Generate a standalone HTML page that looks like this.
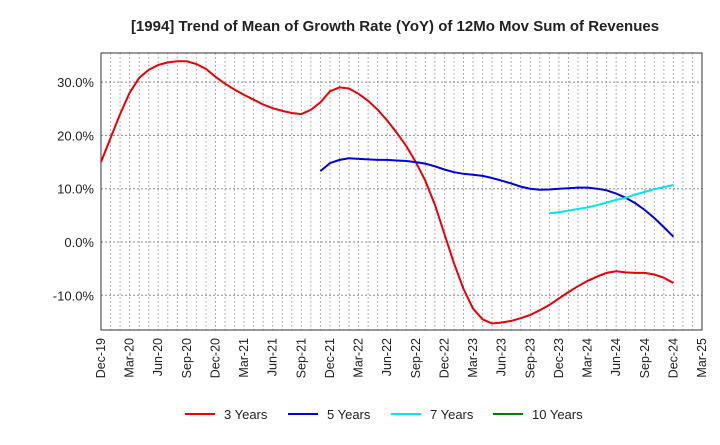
<!DOCTYPE html>
<html><head><meta charset="utf-8"><style>
body{margin:0;background:#fff;font-family:"Liberation Sans",sans-serif}
</style></head><body>
<svg id="chart" width="720" height="440" xmlns="http://www.w3.org/2000/svg" font-family="Liberation Sans, sans-serif">
<text x="395" y="31" text-anchor="middle" font-size="15" font-weight="bold" fill="#222">[1994]  Trend of Mean of Growth Rate (YoY) of 12Mo Mov Sum of Revenues</text>
<g id="grid"></g><g id="axes"></g><g id="series"></g><g id="legend"></g>
</svg>
<script>
const xLabels=["Dec-19","Mar-20","Jun-20","Sep-20","Dec-20","Mar-21","Jun-21","Sep-21","Dec-21","Mar-22","Jun-22","Sep-22","Dec-22","Mar-23","Jun-23","Sep-23","Dec-23","Mar-24","Jun-24","Sep-24","Dec-24","Mar-25"];
const yTicks=[30,20,10,0,-10];
const s3=[15.0,19.5,24,28,30.8,32.3,33.2,33.7,33.9,33.9,33.4,32.5,31,29.7,28.6,27.6,26.7,25.8,25.1,24.6,24.2,24.0,24.8,26.2,28.3,29.0,28.8,27.8,26.5,24.8,22.8,20.5,18,15,11.5,7,1.5,-4,-8.8,-12.5,-14.5,-15.3,-15.1,-14.8,-14.3,-13.7,-12.8,-11.8,-10.6,-9.4,-8.3,-7.3,-6.5,-5.8,-5.5,-5.7,-5.8,-5.8,-6.1,-6.7,-7.7];
const s5=[13.3,14.8,15.4,15.7,15.6,15.5,15.4,15.4,15.3,15.2,15.0,14.7,14.2,13.6,13.1,12.8,12.6,12.4,12.0,11.5,11.0,10.4,10.0,9.8,9.85,10.0,10.1,10.2,10.2,10.0,9.7,9.1,8.3,7.3,6.0,4.5,2.8,1.0];
const s7=[5.4,5.6,5.9,6.2,6.5,6.9,7.4,7.9,8.3,8.9,9.4,9.9,10.3,10.7];
const s10=[];
const start5=23, start7=47;
const L=101,R=702,T=53,B=330;
const X=i=>L+i*(R-L)/63;
const Y=v=>242-v*5.33;
const NS="http://www.w3.org/2000/svg";
function mk(p,tag,a){const e=document.createElementNS(NS,tag);for(const k in a)e.setAttribute(k,a[k]);document.getElementById(p).appendChild(e);return e;}
for(let i=1;i<63;i++){const g=mk('grid','line',{x1:X(i),x2:X(i),y1:T,y2:B,stroke:'#999','stroke-dasharray':'1.5,2.5','stroke-width':1});

}
yTicks.forEach(v=>{const g=mk('grid','line',{x1:L,x2:R,y1:Y(v),y2:Y(v),stroke:'#888','stroke-dasharray':'2,2','stroke-width':1});


const t=mk('axes','text',{x:L-7,y:Y(v)+5,'text-anchor':'end','font-size':13,fill:'#222'});


t.textContent=v.toFixed(1)+'%';});
const fr=mk('axes','rect',{x:L,y:T,width:R-L,height:B-T,fill:'none',stroke:'#333','stroke-width':1});


xLabels.forEach((lb,k)=>{const x=X(k*3);const t=mk('axes','text',{transform:`translate(${x+4},338) rotate(-90)`,'text-anchor':'end','font-size':12.5,fill:'#222'});


t.textContent=lb;});
function line(arr,st,col,name){if(!arr.length)return;const d=arr.map((v,i)=>(i?'L':'M')+X(st+i).toFixed(1)+','+Y(v).toFixed(1)).join('');
const p=mk('series','path',{d,fill:'none',stroke:col,'stroke-width':2});

}
line(s3,0,'#e8000b','series-3-years');
line(s5,start5,'#0000dd','series-5-years');
line(s7,start7,'#00e5ee','series-7-years');
line(s10,0,'#008000','series-10-years');
[["3 Years","#e8000b",185],["5 Years","#0000dd",288],["7 Years","#00e5ee",391],["10 Years","#008000",493]].forEach(([n,c,x])=>{
const l=mk('legend','line',{x1:x,x2:x+30,y1:414,y2:414,stroke:c,'stroke-width':2});


const t=mk('legend','text',{x:x+39,y:419,'font-size':13,fill:'#222'});


t.textContent=n;});
</script>
</body></html>
